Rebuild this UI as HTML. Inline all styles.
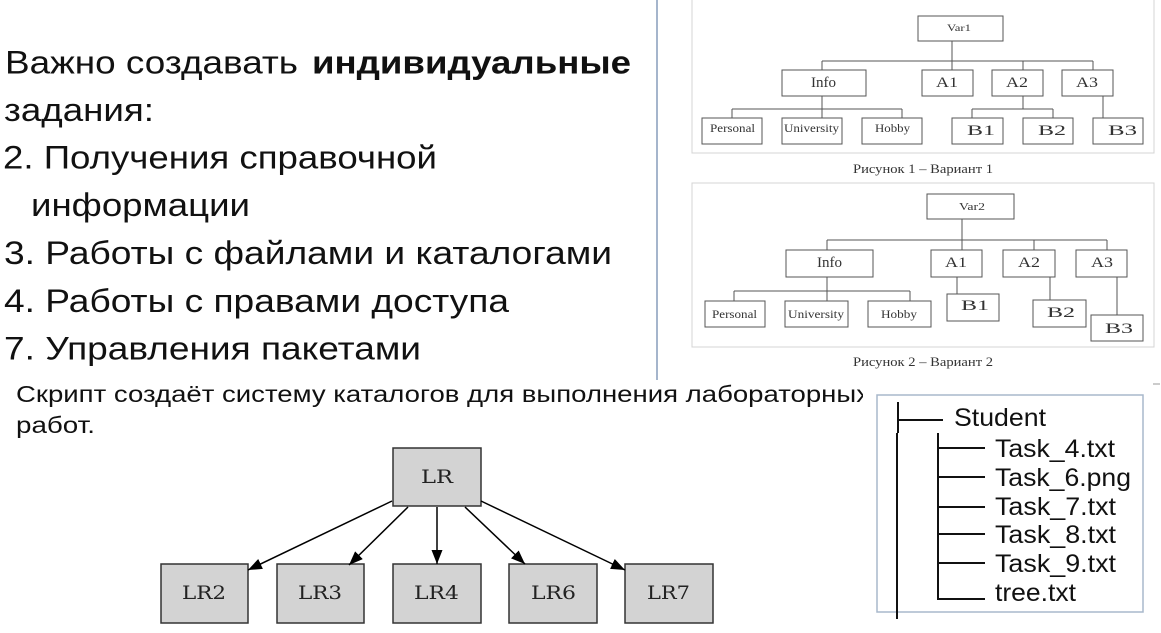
<!DOCTYPE html>
<html><head><meta charset="utf-8"><style>
html,body{margin:0;padding:0;background:#fff;}
svg{display:block;}
</style></head><body>
<svg width="1161" height="633" viewBox="0 0 1161 633" xmlns="http://www.w3.org/2000/svg">
<defs>
<marker id="ah" markerUnits="userSpaceOnUse" markerWidth="15" markerHeight="11" refX="14" refY="5.5" orient="auto">
<path d="M0,0 L14,5.5 L0,11 z" fill="#000"/>
</marker>
<clipPath id="cl"><rect x="0" y="370" width="863" height="80"/></clipPath>
</defs>
<rect width="1161" height="633" fill="#fff"/>

<!-- main text -->
<g font-family="'Liberation Sans', sans-serif" font-size="32" fill="#111" lengthAdjust="spacingAndGlyphs">
<text x="5" y="73.5" textLength="293" lengthAdjust="spacingAndGlyphs">Важно создавать</text>
<text x="312" y="73.5" font-weight="bold" textLength="319" lengthAdjust="spacingAndGlyphs">индивидуальные</text>
<text x="4" y="121" textLength="150" lengthAdjust="spacingAndGlyphs">задания:</text>
<text x="3" y="168.5" textLength="434" lengthAdjust="spacingAndGlyphs">2. Получения справочной</text>
<text x="31" y="216" textLength="219" lengthAdjust="spacingAndGlyphs">информации</text>
<text x="4" y="264" textLength="608" lengthAdjust="spacingAndGlyphs">3. Работы с файлами и каталогами</text>
<text x="4" y="312" textLength="505" lengthAdjust="spacingAndGlyphs">4. Работы с правами доступа</text>
<text x="4" y="359.5" textLength="417" lengthAdjust="spacingAndGlyphs">7. Управления пакетами</text>
</g>

<g font-family="'Liberation Sans', sans-serif" font-size="23" fill="#111">
<text x="16" y="402" textLength="854" lengthAdjust="spacingAndGlyphs" clip-path="url(#cl)">Скрипт создаёт систему каталогов для выполнения лабораторных</text>
<text x="16" y="433" textLength="79" lengthAdjust="spacingAndGlyphs">работ.</text>
</g>

<!-- panel border -->
<line x1="657" y1="0" x2="657" y2="380" stroke="#a5b5cc" stroke-width="2"/>

<!-- Figure 1 -->
<rect x="692" y="-5" width="462" height="158" fill="none" stroke="#d4d4d4" stroke-width="1"/>
<g fill="#fff" stroke="#555" stroke-width="1">
<rect x="918" y="16" width="85" height="25"/>
<rect x="782" y="70" width="84" height="26"/>
<rect x="922" y="70" width="51" height="26"/>
<rect x="992" y="70" width="51" height="26"/>
<rect x="1062" y="70" width="51" height="26"/>
<rect x="702" y="118" width="60" height="26"/>
<rect x="782" y="118" width="60" height="26"/>
<rect x="862" y="118" width="60" height="26"/>
<rect x="952" y="118" width="51" height="26"/>
<rect x="1023" y="118" width="50" height="26"/>
<rect x="1093" y="118" width="50" height="26"/>
</g>
<g stroke="#555" stroke-width="1" fill="none">
<path d="M952,41 V70 M822,61 H1093 M822,61 V70 M1023,61 V70 M1093,61 V70"/>
<path d="M822,96 V109 M732,109 H902 M732,109 V118 M822,109 V118 M902,109 V118"/>
<path d="M1023,96 V109 M972,109 H1053 M972,109 V118 M1053,109 V118"/>
<path d="M1103,96 V118"/>
</g>
<g font-family="'Liberation Serif', serif" fill="#333" text-anchor="start">
<text x="947" y="31" font-size="9" textLength="24" lengthAdjust="spacingAndGlyphs">Var1</text>
<text x="811" y="87" font-size="15" textLength="25" lengthAdjust="spacingAndGlyphs">Info</text>
<text x="936" y="87" font-size="15" textLength="22" lengthAdjust="spacingAndGlyphs">A1</text>
<text x="1006" y="87" font-size="15" textLength="22" lengthAdjust="spacingAndGlyphs">A2</text>
<text x="1076" y="87" font-size="15" textLength="22" lengthAdjust="spacingAndGlyphs">A3</text>
<text x="710" y="132" font-size="12" textLength="45" lengthAdjust="spacingAndGlyphs">Personal</text>
<text x="784" y="132" font-size="12" textLength="55" lengthAdjust="spacingAndGlyphs">University</text>
<text x="875" y="132" font-size="12" textLength="35" lengthAdjust="spacingAndGlyphs">Hobby</text>
<text x="967" y="135" font-size="15" textLength="28" lengthAdjust="spacingAndGlyphs">B1</text>
<text x="1038" y="135" font-size="15" textLength="28" lengthAdjust="spacingAndGlyphs">B2</text>
<text x="1108" y="135" font-size="15" textLength="29" lengthAdjust="spacingAndGlyphs">B3</text>
</g>
<text x="853" y="173" font-family="'Liberation Serif', serif" font-size="13" fill="#333" textLength="140" lengthAdjust="spacingAndGlyphs">Рисунок 1 – Вариант 1</text>

<!-- Figure 2 -->
<rect x="692" y="183" width="462" height="164" fill="none" stroke="#d4d4d4" stroke-width="1"/>
<g fill="#fff" stroke="#555" stroke-width="1">
<rect x="927" y="194" width="87" height="25"/>
<rect x="786" y="250" width="87" height="27"/>
<rect x="931" y="250" width="51" height="27"/>
<rect x="1003" y="250" width="52" height="27"/>
<rect x="1076" y="250" width="51" height="27"/>
<rect x="705" y="301" width="60" height="26"/>
<rect x="785" y="301" width="63" height="26"/>
<rect x="868" y="301" width="63" height="26"/>
<rect x="947" y="294" width="52" height="27"/>
<rect x="1033" y="300" width="53" height="27"/>
<rect x="1091" y="315" width="52" height="26"/>
</g>
<g stroke="#555" stroke-width="1" fill="none">
<path d="M962,219 V250 M827,240 H1107 M827,240 V250 M1034,240 V250 M1107,240 V250"/>
<path d="M827,277 V291 M734,291 H910 M734,291 V301 M827,291 V301 M910,291 V301"/>
<path d="M957,277 V294 M1050,277 V300 M1117,277 V315"/>
</g>
<g font-family="'Liberation Serif', serif" fill="#333">
<text x="959" y="210" font-size="10" textLength="26" lengthAdjust="spacingAndGlyphs">Var2</text>
<text x="817" y="267" font-size="15" textLength="25" lengthAdjust="spacingAndGlyphs">Info</text>
<text x="945" y="267" font-size="15" textLength="22" lengthAdjust="spacingAndGlyphs">A1</text>
<text x="1018" y="267" font-size="15" textLength="22" lengthAdjust="spacingAndGlyphs">A2</text>
<text x="1091" y="267" font-size="15" textLength="22" lengthAdjust="spacingAndGlyphs">A3</text>
<text x="712" y="318" font-size="12" textLength="45" lengthAdjust="spacingAndGlyphs">Personal</text>
<text x="788" y="318" font-size="12" textLength="56" lengthAdjust="spacingAndGlyphs">University</text>
<text x="881" y="318" font-size="12" textLength="36" lengthAdjust="spacingAndGlyphs">Hobby</text>
<text x="961" y="310" font-size="15" textLength="28" lengthAdjust="spacingAndGlyphs">B1</text>
<text x="1047" y="317" font-size="15" textLength="28" lengthAdjust="spacingAndGlyphs">B2</text>
<text x="1105" y="333" font-size="15" textLength="28" lengthAdjust="spacingAndGlyphs">B3</text>
</g>
<text x="853" y="366" font-family="'Liberation Serif', serif" font-size="13" fill="#333" textLength="140" lengthAdjust="spacingAndGlyphs">Рисунок 2 – Вариант 2</text>

<!-- small dash at right -->
<line x1="1153" y1="384" x2="1160" y2="384" stroke="#999" stroke-width="1"/>

<!-- Tree box -->
<rect x="877" y="395" width="266" height="217" fill="#fff" stroke="#a9b8cc" stroke-width="1.5"/>
<g stroke="#111" stroke-width="2" fill="none">
<path d="M898,402 V433 M897,433 V619"/>
<path d="M898,420 H943"/>
<path d="M938,433 V599 H985"/>
<path d="M938,448 H985 M938,477 H985 M938,507 H985 M938,534 H985 M938,563 H985"/>
</g>
<g font-family="'Liberation Sans', sans-serif" font-size="25" fill="#111">
<text x="954" y="426" textLength="92" lengthAdjust="spacingAndGlyphs">Student</text>
<text x="995" y="457" textLength="120" lengthAdjust="spacingAndGlyphs">Task_4.txt</text>
<text x="995" y="486" textLength="136" lengthAdjust="spacingAndGlyphs">Task_6.png</text>
<text x="995" y="515" textLength="121" lengthAdjust="spacingAndGlyphs">Task_7.txt</text>
<text x="995" y="543" textLength="121" lengthAdjust="spacingAndGlyphs">Task_8.txt</text>
<text x="995" y="572" textLength="121" lengthAdjust="spacingAndGlyphs">Task_9.txt</text>
<text x="995" y="601" textLength="81" lengthAdjust="spacingAndGlyphs">tree.txt</text>
</g>

<!-- LR graph -->
<g fill="#d3d3d3" stroke="#333" stroke-width="1.5">
<rect x="393" y="448" width="88" height="58"/>
<rect x="161" y="564" width="87" height="59"/>
<rect x="277" y="564" width="87" height="59"/>
<rect x="393" y="564" width="88" height="59"/>
<rect x="509" y="564" width="88" height="59"/>
<rect x="625" y="564" width="88" height="59"/>
</g>
<g stroke="#000" stroke-width="1.5" marker-end="url(#ah)">
<line x1="392" y1="501" x2="248" y2="570"/>
<line x1="408" y1="507" x2="349" y2="565"/>
<line x1="437" y1="507" x2="437" y2="564"/>
<line x1="465" y1="507" x2="525" y2="564"/>
<line x1="481" y1="501" x2="625" y2="570"/>
</g>
<g font-family="'DejaVu Serif', 'Liberation Serif', serif" font-size="19" fill="#222">
<text x="421" y="483" textLength="32" lengthAdjust="spacingAndGlyphs">LR</text>
<text x="182" y="599" textLength="44" lengthAdjust="spacingAndGlyphs">LR2</text>
<text x="298" y="599" textLength="44" lengthAdjust="spacingAndGlyphs">LR3</text>
<text x="414" y="599" textLength="45" lengthAdjust="spacingAndGlyphs">LR4</text>
<text x="531" y="599" textLength="45" lengthAdjust="spacingAndGlyphs">LR6</text>
<text x="647" y="599" textLength="43" lengthAdjust="spacingAndGlyphs">LR7</text>
</g>
</svg>
</body></html>
